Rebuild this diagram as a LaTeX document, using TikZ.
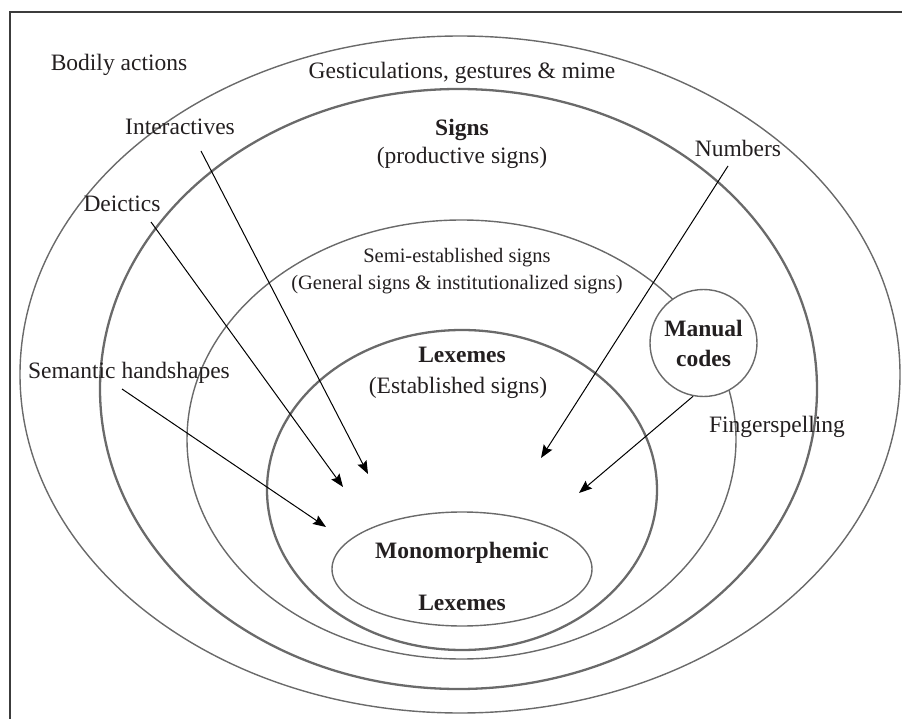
\documentclass[tikz,border=0pt]{standalone}
\usepackage{fontspec}
\setmainfont{Liberation Serif}
\usetikzlibrary{arrows.meta}
\definecolor{ringgray}{HTML}{6A6A6A}
\definecolor{framegray}{HTML}{3C3C3C}
\definecolor{inkblack}{HTML}{231F20}
\begin{document}
\begin{tikzpicture}[x=1pt,y=-1pt,
  ring/.style={draw=ringgray, line width=1.4pt},
  thickring/.style={draw=ringgray, line width=2.3pt},
  lbl/.style={font=\fontsize{23.5}{27}\selectfont, text=inkblack, inner sep=0pt},
  smalllbl/.style={font=\fontsize{20.5}{24}\selectfont, text=inkblack, inner sep=0pt},
  blbl/.style={font=\fontsize{23.5}{27}\selectfont\bfseries, text=inkblack, inner sep=0pt},
  ptr/.style={draw=black, line width=1pt, -{Stealth[length=13pt,width=10pt,inset=2pt]}}]
\useasboundingbox (0,0) rectangle (902,719);

% frame
\draw[framegray, line width=1.5pt] (10,719) -- (10,12) -- (902,12);

% nested categories
\draw[ring]      (460,374.5) ellipse [x radius=440pt, y radius=338.5pt];
\draw[thickring] (458.5,389) ellipse [x radius=358.5pt, y radius=300pt];
\draw[ring]      (461.5,439.5) ellipse [x radius=274.5pt, y radius=219.5pt];
\draw[thickring] (462,490) ellipse [x radius=195pt, y radius=160pt];
\draw[ring]      (462,569) ellipse [x radius=130pt, y radius=57pt];

% manual codes circle (covers the semi-established ring)
\node[circle, draw=ringgray, line width=1.4pt, fill=white, minimum size=107pt,
      inner sep=0pt, align=center, font=\fontsize{23.5}{30}\selectfont\bfseries,
      text=inkblack] (mc) at (703.5,343) {Manual\\codes};

% labels
\node[lbl] (bodily) at (119,65) {Bodily actions};
\node[lbl] (gest) at (462,73) {Gesticulations, gestures \& mime};
\node[lbl] (inter) at (180,127) {Interactives};
\node[blbl] (signs) at (462,130) {Signs};
\node[lbl] (prod) at (462,158) {(productive signs)};
\node[lbl] (numbers) at (738,148) {Numbers};
\node[lbl] (deictics) at (122,204) {Deictics};
\node[smalllbl] (semi) at (457,258) {Semi-established signs};
\node[smalllbl] (general) at (457,285) {(General signs \& institutionalized signs)};
\node[blbl] (lex) at (462,355) {Lexemes};
\node[lbl] (estab) at (458,388) {(Established signs)};
\node[lbl] (semhand) at (129,373) {Semantic handshapes};
\node[lbl] (finger) at (777,427) {Fingerspelling};
\node[blbl] (mono) at (462,553) {Monomorphemic};
\node[blbl] (monolex) at (462,603) {Lexemes};

% arrow ends
\coordinate (interS) at (201,151);
\coordinate (interE) at (368,474);
\coordinate (deicS) at (151,222);
\coordinate (deicE) at (343,487);
\coordinate (semS) at (122,389);
\coordinate (semE) at (326,527);
\coordinate (numS) at (728,166);
\coordinate (numE) at (541,458);
\coordinate (mcE) at (579,493);

\draw[ptr] (interS) -- (interE);
\draw[ptr] (deicS) -- (deicE);
\draw[ptr] (semS) -- (semE);
\draw[ptr] (numS) -- (numE);
\draw[ptr] (mc.259) -- (mcE);
\end{tikzpicture}
\end{document}
